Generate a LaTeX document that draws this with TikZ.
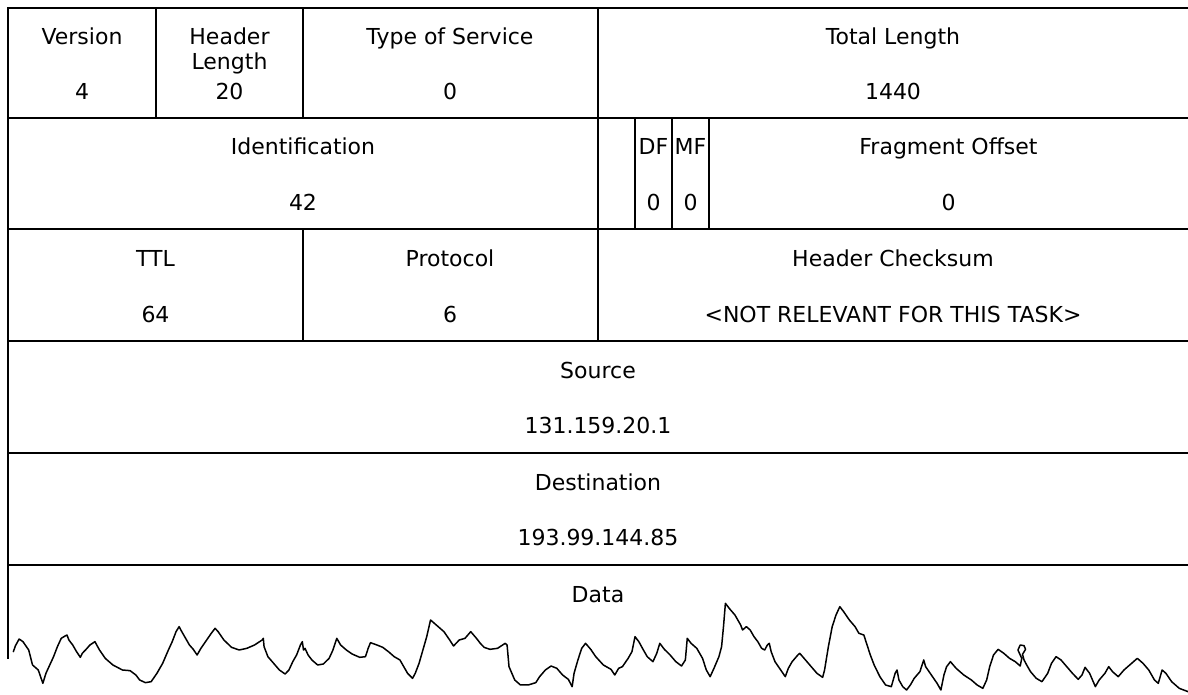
\documentclass[tikz,border=0pt]{standalone}
\usepackage{fontspec}
\setmainfont{DejaVu Sans}
\begin{document}
\begin{tikzpicture}[x=1pt,y=-1pt,
  rule/.style={line width=1.5pt,line cap=rect},
  wave/.style={line width=1.5pt,line join=round,line cap=round},
  field/.style={anchor=base,inner sep=0pt,font=\fontsize{22}{25.5}\selectfont}]
\useasboundingbox (0,0) rectangle (1188,695);

% row boundaries
\coordinate (r0) at (0,8);
\draw[rule] (8,8) -- (1188,8);
\draw[rule] (8,118) -- (1188,118);
\draw[rule] (8,229) -- (1188,229);
\draw[rule] (8,341) -- (1188,341);
\draw[rule] (8,453) -- (1188,453);
\draw[rule] (8,565) -- (1188,565);
% left border, open at the bottom
\draw[rule] (8,8) -- (8,658);

% column dividers
\draw[rule] (156,8) -- (156,118);
\draw[rule] (303,8) -- (303,118);
\draw[rule] (598,8) -- (598,341);
\draw[rule] (635,118) -- (635,229);
\draw[rule] (672,118) -- (672,229);
\draw[rule] (709,118) -- (709,229);
\draw[rule] (303,229) -- (303,341);

% row 1
\node[field] (ver)  at (82,45)   {Version};
\node[field] (verv) at (82,100)  {4};
\node[field] (hl1)  at (229.5,45) {Header};
\node[field] (hl2)  at (229.5,70) {Length};
\node[field] (hlv)  at (229.5,100) {20};
\node[field] (tos)  at (450,45)  {Type of Service};
\node[field] (tosv) at (450,100) {0};
\node[field] (tl)   at (893,45)  {Total Length};
\node[field] (tlv)  at (893,100) {1440};

% row 2
\node[field] (id)   at (303,155) {Identification};
\node[field] (idv)  at (303,211) {42};
\node[field] (df)   at (653.5,155) {DF};
\node[field] (dfv)  at (653.5,211) {0};
\node[field] (mf)   at (690.5,155) {MF};
\node[field] (mfv)  at (690.5,211) {0};
\node[field] (fo)   at (948.5,155) {Fragment Offset};
\node[field] (fov)  at (948.5,211) {0};

% row 3
\node[field] (ttl)  at (155.5,266) {TTL};
\node[field] (ttlv) at (155.5,322) {64};
\node[field] (pr)   at (450,266) {Protocol};
\node[field] (prv)  at (450,322) {6};
\node[field] (hc)   at (893,266) {Header Checksum};
\node[field] (hcv)  at (893,322) {<NOT RELEVANT FOR THIS TASK>};

% rows 4 and 5
\node[field] (src)  at (598,378) {Source};
\node[field] (srcv) at (598,433) {131.159.20.1};
\node[field] (dst)  at (598,490) {Destination};
\node[field] (dstv) at (598,545) {193.99.144.85};

% data row
\node[field] (data) at (598,602) {Data};

% torn edge of the data area, left half
\begin{scope}[shift={(0,560)},x=0.3827pt,y=-0.3333pt]
\draw[wave] plot coordinates {
(35,275) (40,258) (50,237) (60,245) (75,270) (85,315) (100,330) (112,370)
(120,340) (128,320) (140,290) (150,260) (160,235) (170,228) (175,225)
(180,240) (190,255) (200,275) (210,292) (215,280) (225,268) (235,255)
(248,245) (260,270) (275,295) (295,315) (320,330) (340,332) (355,345)
(365,360) (380,368) (395,365) (410,340) (425,310) (440,270) (450,245)
(460,215) (468,200) (475,215) (485,235) (495,255) (505,268) (515,285)
(525,265) (540,240) (552,220) (562,205) (570,215) (585,240) (605,262)
(625,270) (645,265) (665,255) (685,240) (688,235) (690,260) (700,290)
(715,310) (730,330) (745,342) (755,330) (765,305) (775,285) (785,255)
(790,245) (793,270) (797,265) (805,285) (815,300) (830,315) (845,312)
(860,295) (870,270) (880,235) (890,255) (905,270) (920,282) (940,292)
(955,290) (962,265) (968,248) (985,255) (1000,262) (1015,275) (1030,290)
(1045,300) (1055,320) (1065,340) (1078,355) (1085,340) (1095,310)
(1105,270) (1115,230) (1125,180) (1140,195) (1160,215) (1175,240)
(1185,258) (1200,240) (1215,235) (1230,215) (1245,235) (1255,250)
(1265,262) (1280,268) (1300,265) (1320,250) (1325,255) (1330,320)
(1345,360) (1360,375) (1380,375) (1400,368) (1410,350) (1425,330)
(1440,318) (1455,325) (1470,345) (1485,358) (1495,380) (1500,340)
(1510,300) (1520,265) (1530,250) (1545,270)};
\end{scope}

% torn edge, right half
\begin{scope}[shift={(590,560)},x=0.3814pt,y=-0.3333pt]
\draw[wave] plot coordinates {
(3,270) (15,290) (35,315) (55,328) (65,345) (75,325) (85,320) (100,295)
(110,275) (118,230) (128,245) (140,270) (150,290) (165,305) (175,280)
(183,250) (195,268) (210,285) (225,305) (240,318) (250,300) (255,235)
(265,250) (280,265) (295,295) (305,330) (315,350) (325,325) (338,290)
(345,260) (350,200) (355,130) (365,145) (380,165) (395,195) (400,210)
(410,200) (420,210) (430,230) (440,245) (450,265) (458,270) (465,255)
(470,250) (475,275) (485,305) (500,330) (512,350) (520,325) (530,305)
(545,285) (550,280) (565,300) (580,320) (595,340) (610,352) (615,330)
(625,260) (635,200) (645,165) (655,140) (665,155) (680,180) (695,200)
(705,220) (718,225) (725,250) (735,285) (745,315) (760,350) (775,375)
(790,380) (800,340) (805,330) (810,360) (820,380) (830,390) (840,375)
(850,355) (865,335) (875,300) (880,320) (895,345) (910,370) (920,390)
(928,345) (935,320) (945,305) (960,325) (980,345) (1000,360) (1015,375)
(1030,385) (1040,360) (1048,320) (1058,285) (1070,268) (1085,280)
(1100,295) (1115,305) (1128,318) (1132,295) (1122,270) (1128,255)
(1138,257) (1142,268) (1134,283) (1138,300) (1145,315) (1155,335)
(1170,355) (1185,365) (1200,340) (1210,310) (1222,290) (1235,300)
(1250,320) (1265,340) (1280,358) (1290,345) (1298,322) (1310,340)
(1325,380) (1335,360) (1350,340) (1360,320) (1370,335) (1385,350)
(1400,330) (1420,310) (1435,295) (1450,310) (1465,330) (1480,360)
(1490,370) (1500,330) (1510,340) (1525,365) (1545,385) (1568,395)};
\end{scope}
\end{tikzpicture}
\end{document}
